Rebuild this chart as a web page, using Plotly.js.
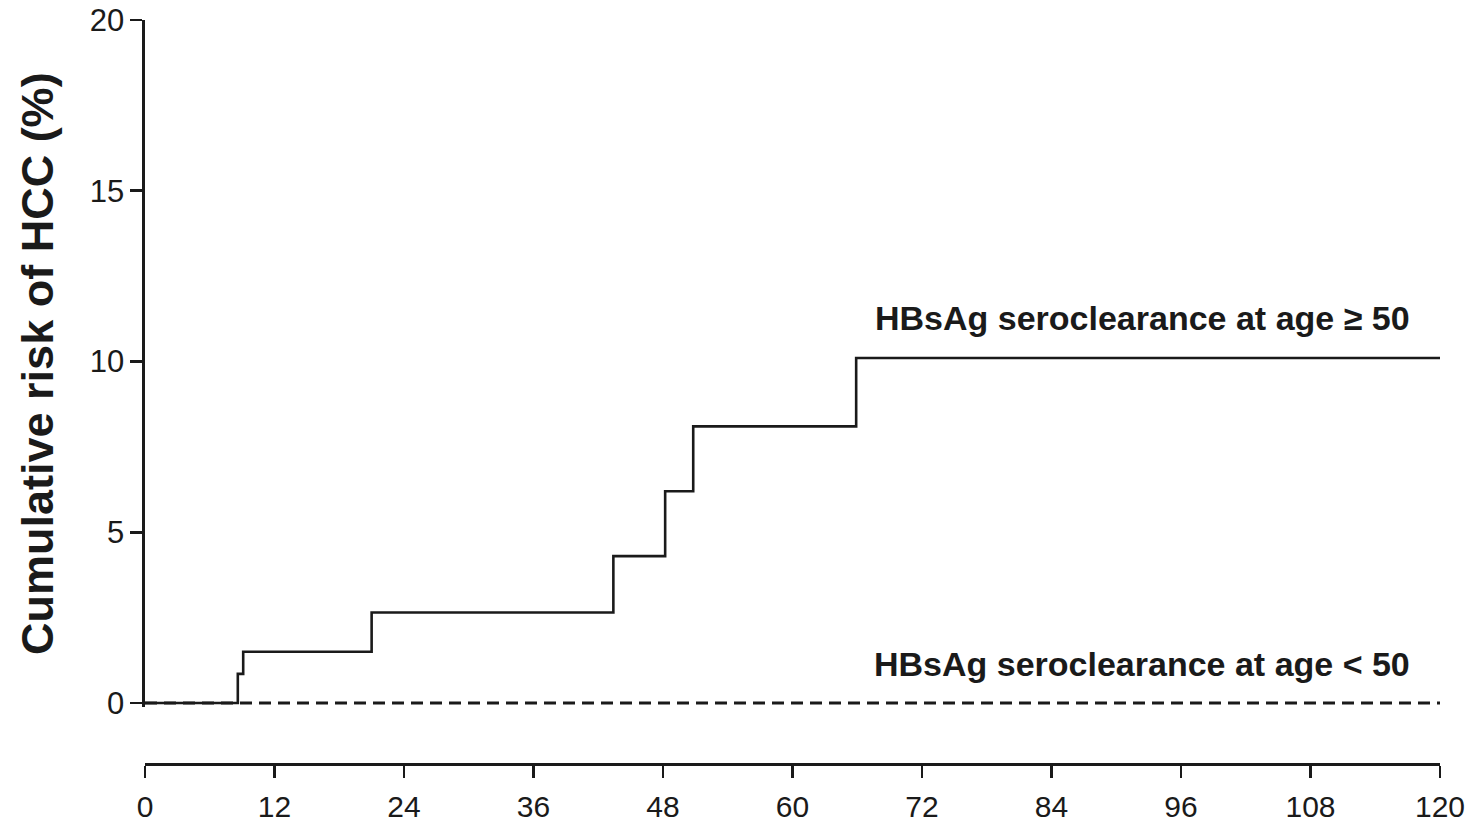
<!DOCTYPE html>
<html>
<head>
<meta charset="utf-8">
<script src="https://cdn.plot.ly/plotly-3.0.1.min.js"></script>
<style>html,body{margin:0;padding:0;background:#fff;}#chart{width:1473px;height:827px;}</style>
</head>
<body>
<div id="chart"></div>
<script>
// Data (months vs cumulative risk %)
const olderMonths = [0, 8.6, 9.1, 21, 43.4, 48.2, 50.8, 65.9, 120];
const olderRisk   = [0, 0.85, 1.5, 2.65, 4.3, 6.2, 8.1, 10.1, 10.1];
const youngerMonths = [0, 120];
const youngerRisk   = [0, 0];
const xTicks = [0, 12, 24, 36, 48, 60, 72, 84, 96, 108, 120];
const yTicks = [0, 5, 10, 15, 20];
const labelOlder = "HBsAg seroclearance at age \u2265 50";
const labelYounger = "HBsAg seroclearance at age < 50";

const font = "Liberation Sans, Arial, Helvetica, sans-serif";
const ink = '#1a1a1a';

const traces = [
  {x: olderMonths, y: olderRisk, mode: 'lines', line: {color: ink, width: 2.6, shape: 'hv'}, hoverinfo: 'skip', showlegend: false, cliponaxis: false},
  {x: youngerMonths, y: youngerRisk, mode: 'lines', line: {color: ink, width: 3, dash: '12px,7px'}, hoverinfo: 'skip', showlegend: false, cliponaxis: false}
];

const layout = {
  width: 1473, height: 827,
  margin: {l: 145, r: 33, t: 20, b: 63},
  paper_bgcolor: '#ffffff', plot_bgcolor: '#ffffff',
  font: {family: font, color: ink},
  showlegend: false,
  xaxis: {
    range: [0, 120], anchor: 'free', position: 0,
    tickvals: xTicks, ticktext: xTicks.map(String),
    showgrid: false, zeroline: false,
    showline: true, linecolor: ink, linewidth: 2.6,
    ticks: 'outside', ticklen: 12, tickwidth: 2.6, tickcolor: ink,
    ticklabelstandoff: 3,
    tickfont: {size: 30, family: font, color: ink}
  },
  yaxis: {
    range: [-0.13, 20], domain: [0.0761, 1],
    tickvals: yTicks, ticktext: yTicks.map(String),
    showgrid: false, zeroline: false,
    showline: true, linecolor: ink, linewidth: 2.6,
    ticks: 'outside', ticklen: 12, tickwidth: 2.6, tickcolor: ink,
    tickfont: {size: 31, family: font, color: ink},
    title: {text: '<b>Cumulative risk of HCC (%)</b>', font: {size: 45, family: font, color: ink}, standoff: 22}
  },
  annotations: [
    {xref: 'paper', y: olderRisk[olderRisk.length-1], yref: 'y', yshift: 40,
     text: '<b>' + labelOlder + '</b>', showarrow: false, xanchor: 'right', yanchor: 'middle',
     font: {size: 34, family: font, color: ink}},
    {xref: 'paper', y: youngerRisk[0], yref: 'y', yshift: 39,
     text: '<b>' + labelYounger + '</b>', showarrow: false, xanchor: 'right', yanchor: 'middle',
     font: {size: 34, family: font, color: ink}}
  ]
};

// annotation right edge at pixel 1412 (paper coords relative to plot area)
const plotW = 1473 - 145 - 33;
layout.annotations.forEach(a => { a.x = (1412 - 145) / plotW; });

Plotly.newPlot('chart', traces, layout, {displayModeBar: false, staticPlot: true});
</script>
</body>
</html>
